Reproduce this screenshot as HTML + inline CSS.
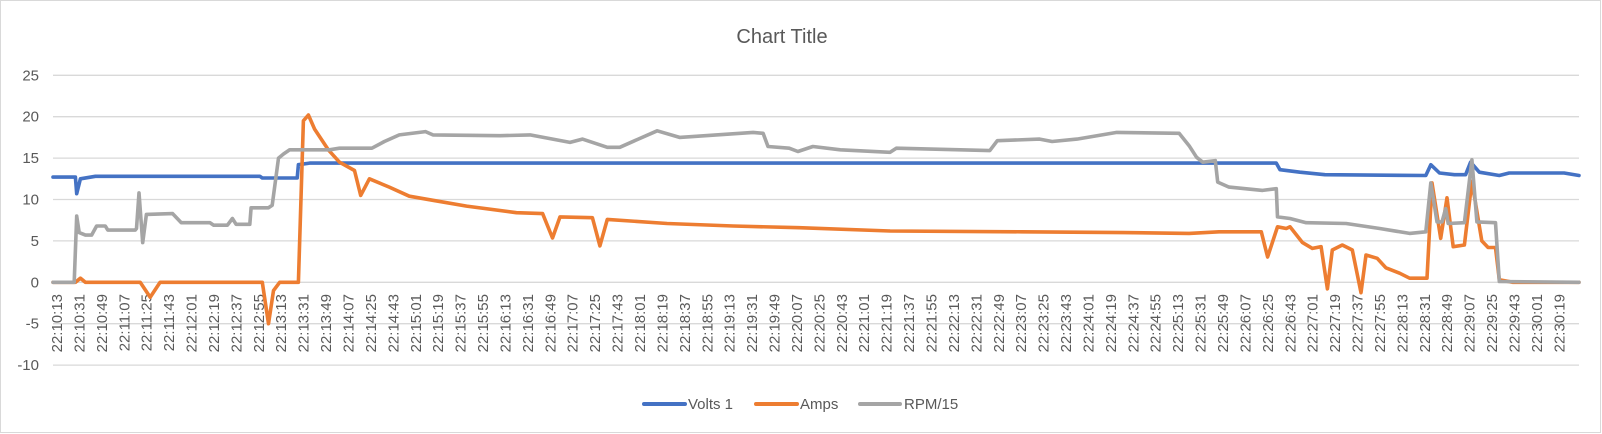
<!DOCTYPE html>
<html><head><meta charset="utf-8"><style>
html,body{margin:0;padding:0;background:#fff;}
svg{display:block;font-family:"Liberation Sans",sans-serif;}
</style></head><body>
<svg id="chart" width="1602" height="434" viewBox="0 0 1602 434" xmlns="http://www.w3.org/2000/svg">
<rect x="0.5" y="0.5" width="1600" height="432" fill="#fff" stroke="#d9d9d9"/>
<text x="782" y="43" text-anchor="middle" font-size="20" fill="#595959">Chart Title</text>
<g id="grid"></g><g id="ylab"></g><g id="xlab"></g><g id="series"></g>
<g>
<line x1="644" y1="404" x2="685" y2="404" stroke="#4472C4" stroke-width="4" stroke-linecap="round"/>
<text x="688" y="409" font-size="15" fill="#595959">Volts 1</text>
<line x1="756" y1="404" x2="797" y2="404" stroke="#ED7D31" stroke-width="4" stroke-linecap="round"/>
<text x="800" y="409" font-size="15" fill="#595959">Amps</text>
<line x1="860" y1="404" x2="900" y2="404" stroke="#A5A5A5" stroke-width="4" stroke-linecap="round"/>
<text x="904" y="409" font-size="15" fill="#595959">RPM/15</text>
</g>
</svg>
<script>
const yTicks=[25,20,15,10,5,0,-5,-10];
const startSec=22*3600+10*60+13;
const labelStep=18;
const labelCount=68;
const voltsT=[0,18,19,22,34,166,168,196,197,206,982,985,1001,1021,1102,1106,1113,1125,1134,1138,1145,1161,1169,1213,1225];
const voltsV=[12.7,12.7,10.7,12.5,12.8,12.8,12.6,12.6,14.2,14.4,14.4,13.6,13.3,13.0,12.9,14.2,13.2,13.0,13.0,14.5,13.3,12.9,13.2,13.2,12.9];
const ampsT=[0,18,22,26,70,78,86,168,173,177,182,197,201,205,210,221,230,242,247,254,270,286,305,332,372,393,401,407,433,439,445,493,546,599,672,778,859,912,936,970,975,983,990,993,1003,1011,1018,1023,1027,1035,1043,1050,1054,1063,1070,1081,1089,1103,1107,1114,1119,1124,1133,1139,1147,1152,1158,1161,1172,1225];
const ampsV=[0,0,0.5,0,0,-1.8,0,0,-5,-1,0,0,19.5,20.2,18.5,16,14.5,13.5,10.5,12.5,11.5,10.4,9.9,9.2,8.4,8.3,5.35,7.9,7.8,4.4,7.6,7.1,6.8,6.6,6.2,6.1,6.0,5.9,6.1,6.1,3.05,6.7,6.5,6.7,4.8,4.1,4.3,-0.8,3.9,4.5,3.9,-1.25,3.3,2.9,1.75,1.1,0.5,0.5,12.0,5.3,10.2,4.3,4.5,12.2,5.0,4.2,4.2,0.3,0,0];
const rpmT=[0,17,19,21,26,31,35,42,44,66,67,69,72,75,96,103,126,129,140,144,147,158,159,173,176,181,185,190,222,230,256,266,278,299,305,359,383,415,425,445,455,485,503,562,570,574,591,598,610,632,672,677,752,758,792,802,822,854,904,912,918,923,933,935,944,971,982,983,993,1006,1038,1065,1089,1102,1106,1111,1115,1118,1120,1133,1139,1143,1158,1161,1225];
const rpmV=[0,0,8,6,5.7,5.7,6.8,6.8,6.3,6.3,6.5,10.8,4.8,8.2,8.3,7.2,7.2,6.9,6.9,7.7,7.0,7.0,9.0,9.0,9.3,15,15.5,16,16,16.2,16.2,17,17.8,18.2,17.8,17.7,17.8,16.9,17.3,16.3,16.3,18.3,17.5,18.1,18.0,16.4,16.2,15.8,16.4,16.0,15.7,16.2,15.9,17.1,17.3,17.0,17.3,18.1,18.0,16.5,15.1,14.5,14.7,12.1,11.5,11.1,11.3,7.9,7.7,7.2,7.1,6.5,5.9,6.1,12.0,7.3,7.3,8.9,7.1,7.2,14.8,7.3,7.2,0.1,0];

const X0=53,X1=1579,TMAX=1225;
const xs=t=>X0+t*(X1-X0)/TMAX;
const ys=v=>282.3-v*8.28;
const NS='http://www.w3.org/2000/svg';
function mk(tag,attrs,parent){const e=document.createElementNS(NS,tag);for(const k in attrs)e.setAttribute(k,attrs[k]);parent.appendChild(e);return e;}
const grid=document.getElementById('grid'),ylab=document.getElementById('ylab'),xlab=document.getElementById('xlab'),ser=document.getElementById('series');
yTicks.forEach(v=>{
  const l=mk('line',{x1:X0,x2:X1,y1:ys(v),y2:ys(v),stroke:'#d9d9d9','stroke-width':1.3},grid);
  
  
  const t=mk('text',{x:39,y:ys(v)+5,'text-anchor':'end','font-size':15,fill:'#595959'},ylab);
  
  
  t.textContent=v;
});
const pad=n=>String(n).padStart(2,'0');
for(let i=0;i<labelCount;i++){
  const s=startSec+i*labelStep;
  const txt=pad(Math.floor(s/3600))+':'+pad(Math.floor(s/60)%60)+':'+pad(s%60);
  const x=xs(i*labelStep)+9;
  const t=mk('text',{x:x,y:294,'text-anchor':'end','font-size':15,fill:'#595959',transform:'rotate(-90 '+x+' 294)'},xlab);
  
  
  t.textContent=txt;
}
function draw(T,V,color,name){
  const d=T.map((t,i)=>(i?'L':'M')+xs(t).toFixed(1)+' '+ys(V[i]).toFixed(1)).join(' ');
  const p=mk('path',{d:d,fill:'none',stroke:color,'stroke-width':3.6,'stroke-linejoin':'round','stroke-linecap':'round'},ser);
  
  
}
draw(voltsT,voltsV,'#4472C4','volts-line');
draw(ampsT,ampsV,'#ED7D31','amps-line');
draw(rpmT,rpmV,'#A5A5A5','rpm-line');
</script>
</body></html>
